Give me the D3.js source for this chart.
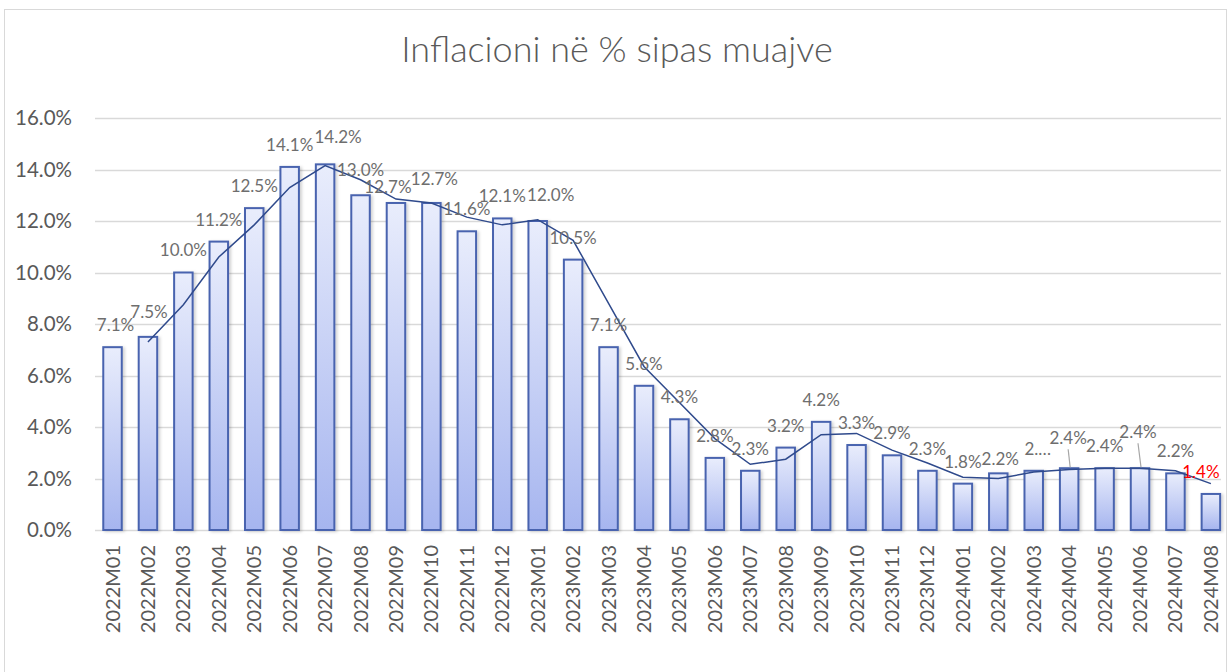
<!DOCTYPE html>
<html><head><meta charset="utf-8">
<script src="https://cdn.jsdelivr.net/npm/d3@7"></script>
<style>
body{margin:0;background:#fff}
text{font-family:Lato, "Open Sans", sans-serif}
</style></head>
<body>
<svg id="c" width="1228" height="672"></svg>
<script>
const title = "Inflacioni në % sipas muajve";
const categories = ["2022M01","2022M02","2022M03","2022M04","2022M05","2022M06","2022M07","2022M08","2022M09","2022M10","2022M11","2022M12",
  "2023M01","2023M02","2023M03","2023M04","2023M05","2023M06","2023M07","2023M08","2023M09","2023M10","2023M11","2023M12",
  "2024M01","2024M02","2024M03","2024M04","2024M05","2024M06","2024M07","2024M08"];
const values = [7.1,7.5,10.0,11.2,12.5,14.1,14.2,13.0,12.7,12.7,11.6,12.1,
  12.0,10.5,7.1,5.6,4.3,2.8,2.3,3.2,4.2,3.3,2.9,2.3,
  1.8,2.2,2.3,2.4,2.4,2.4,2.2,1.4];
// 2-period moving average trendline
const trend = [null,7.3,8.75,10.6,11.85,13.3,14.15,13.6,12.85,12.7,12.15,11.85,
  12.05,11.25,8.8,6.35,4.95,3.55,2.55,2.75,3.7,3.75,3.1,2.6,
  2.05,2.0,2.25,2.35,2.4,2.4,2.3,1.8];
const yTicks = [0,2,4,6,8,10,12,14,16];
const labelTextOverride = {"2024M03":"2.…"};
const labelNudge = {"2022M01":[3,0],"2022M02":[1,-3],"2022M07":[13,-5],"2022M08":[0,-3],"2022M09":[-8,6],"2022M10":[3,-2],"2023M01":[13,-4],"2024M02":[2,8],
  "2024M03":[4,0],"2024M04":[-1,-8],"2024M06":[-2,-14],"2024M08":[-10,0]};
const leaders = ["2024M04","2024M06"];
const redLabels = ["2024M08"];

const svg = d3.select("#c");
const grey = "#595959";
const labelGrey = "#6E6E6E";

// outer chart border
svg.append("rect").attr("x",4.5).attr("y",9.5).attr("width",1222).attr("height",700)
  .attr("fill","#fff").attr("stroke","#D9D9D9").attr("stroke-width",1);

const defs = svg.append("defs");
const grad = defs.append("linearGradient").attr("id","barGrad").attr("x1",0).attr("y1",0).attr("x2",0).attr("y2",1);
grad.append("stop").attr("offset","0%").attr("stop-color","#E9EDFC");
grad.append("stop").attr("offset","100%").attr("stop-color","#A6B5EF");
const filt = defs.append("filter").attr("id","sh").attr("x","-50%").attr("y","-10%").attr("width","200%").attr("height","120%");
filt.append("feDropShadow").attr("dx",2).attr("dy",1).attr("stdDeviation",1.5).attr("flood-color","#000").attr("flood-opacity",0.18);

const x = d3.scaleBand().domain(categories).range([94.8,1228.6]).paddingInner(0.478).paddingOuter(0.239);
const y = d3.scaleLinear().domain([0,16]).range([530,118]);

// title
svg.append("text").attr("x",617).attr("y",62).attr("text-anchor","middle")
  .attr("font-size",36).attr("font-weight",300).attr("fill",grey).text(title);

// gridlines
svg.append("g").selectAll("line").data(yTicks).join("line")
  .attr("x1",95).attr("x2",1221).attr("y1",d=>Math.round(y(d))+0.5).attr("y2",d=>Math.round(y(d))+0.5)
  .attr("stroke","#D9D9D9").attr("stroke-width",1.3);

// y axis labels
const yAxis = d3.axisLeft(y).tickValues(yTicks).tickFormat(d=>d.toFixed(1)+"%").tickSize(0).tickPadding(0);
const ya = svg.append("g").attr("transform","translate(72,0)").call(yAxis);
ya.select(".domain").remove();
ya.selectAll("text").attr("font-size",20.5).attr("fill",grey).attr("font-family","Lato, sans-serif");

// bars
svg.append("g").selectAll("rect").data(categories).join("rect")
  .attr("x",d=>x(d)).attr("width",x.bandwidth())
  .attr("y",(d,i)=>y(values[i])).attr("height",(d,i)=>y(0)-y(values[i]))
  .attr("fill","url(#barGrad)").attr("stroke","#4964AF").attr("stroke-width",2)
  .attr("filter","url(#sh)");

// x axis labels
const xAxis = d3.axisBottom(x).tickSize(0).tickPadding(0);
const xa = svg.append("g").attr("transform","translate(0,545)").call(xAxis);
xa.select(".domain").remove();
xa.selectAll("text").attr("font-size",20).attr("fill",grey).attr("font-family","Lato, sans-serif")
  .attr("text-anchor","end").attr("transform","rotate(-90)").attr("x",0).attr("y",0).attr("dy","0.35em");

// trendline
const line = d3.line().defined(d=>d[1]!=null).x(d=>x(d[0])+x.bandwidth()/2).y(d=>y(d[1]));
svg.append("path").datum(categories.map((c,i)=>[c,trend[i]])).attr("d",line)
  .attr("fill","none").attr("stroke","#2F4A8C").attr("stroke-width",1.5);

// data labels
const lg = svg.append("g");
categories.forEach((c,i)=>{
  const n = labelNudge[c] || [0,0];
  const cx = x(c)+x.bandwidth()/2 + n[0];
  const cy = y(values[i]) - 22 + n[1];
  if (leaders.includes(c)) {
    lg.append("line").attr("x1",cx).attr("y1",cy+11).attr("x2",x(c)+x.bandwidth()/2+1).attr("y2",y(values[i])-1)
      .attr("stroke","#A6A6A6").attr("stroke-width",1.2);
  }
  lg.append("text").attr("x",cx).attr("y",cy).attr("dy","0.35em").attr("text-anchor","middle")
    .attr("font-size",17).attr("fill",redLabels.includes(c)?"#FF0000":labelGrey)
    .text(labelTextOverride[c] || values[i].toFixed(1)+"%");
});
</script>
</body></html>
